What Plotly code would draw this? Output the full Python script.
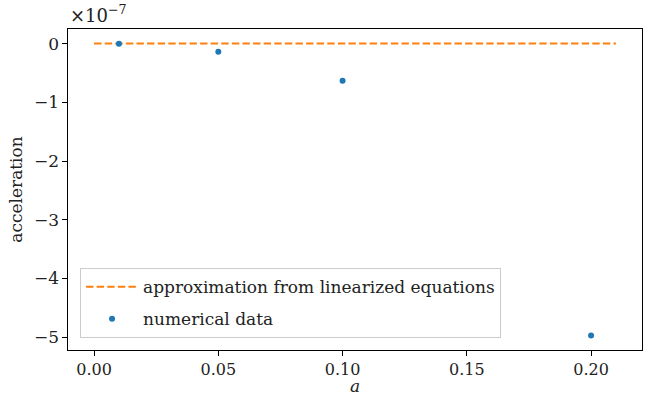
import plotly.graph_objects as go

# Sampled amplitudes and the measured acceleration at each one
a_values = [0.01, 0.05, 0.10, 0.20]
acceleration = [-0.001e-7, -0.137e-7, -0.634e-7, -4.97e-7]

# Linearized prediction: zero acceleration over the whole range
a_linear = [0.0, 0.21]
acc_linear = [0.0, 0.0]

y_tick_vals = [0, -1e-7, -2e-7, -3e-7, -4e-7, -5e-7]
y_tick_text = ["0", "\u22121", "\u22122", "\u22123", "\u22124", "\u22125"]
x_tick_vals = [0.0, 0.05, 0.10, 0.15, 0.20]
x_tick_text = ["0.00", "0.05", "0.10", "0.15", "0.20"]

FONT = "'DejaVu Serif', serif"

fig = go.Figure()
fig.add_trace(go.Scatter(
    x=a_linear, y=acc_linear, mode="lines",
    name="approximation from linearized equations", legendgroup="lin",
    line=dict(color="#ff7f0e", width=2, dash="7.4px,3.2px"),
))
fig.add_trace(go.Scatter(
    x=a_values, y=acceleration, mode="markers",
    name="numerical data", legendgroup="num",
    marker=dict(color="#1f77b4", size=6),
))

axis_common = dict(
    showline=True, linecolor="black", linewidth=1.2, mirror=True,
    ticks="outside", ticklen=4.5, tickwidth=1.2, tickcolor="black",
    showgrid=False, zeroline=False, automargin=False,
)

fig.update_layout(
    width=663, height=397,
    margin=dict(l=68, r=21, t=29, b=47),
    paper_bgcolor="white", plot_bgcolor="white",
    font=dict(family=FONT, color="#222"),
    xaxis=dict(
        range=[-0.0105, 0.2205],
        tickvals=x_tick_vals, ticktext=x_tick_text,
        tickfont=dict(family=FONT, size=16, color="#222"),
        **axis_common,
    ),
    yaxis=dict(
        range=[-5.2185e-7, 0.2485e-7],
        tickvals=y_tick_vals, ticktext=y_tick_text,
        tickfont=dict(family=FONT, size=17, color="#222"),
        title=dict(text="acceleration", font=dict(family=FONT, size=17), standoff=6),
        **axis_common,
    ),
    legend=dict(
        x=0.021, y=0.037, xanchor="left", yanchor="bottom",
        bgcolor="rgba(255,255,255,0.8)", bordercolor="#cccccc", borderwidth=1,
        font=dict(family=FONT, size=17, color="#222"),
        tracegroupgap=7, itemwidth=52,
    ),
    showlegend=True,
)

# x-axis label, along the bottom edge under the tick labels
fig.add_annotation(
    xref="paper", yref="paper", x=0.5, y=0, xanchor="center", yanchor="bottom",
    text="<i>a</i>", showarrow=False, yshift=-47, borderpad=0,
    font=dict(family=FONT, size=17, color="#222"),
)

# common exponent of the y axis
fig.add_annotation(
    xref="paper", yref="paper", x=0, y=1, xanchor="left", yanchor="bottom",
    text="\u00d710<sup>\u22127</sup>", showarrow=False, yshift=1,
    font=dict(family=FONT, size=18, color="#222"),
)

fig.write_html("out.html")
